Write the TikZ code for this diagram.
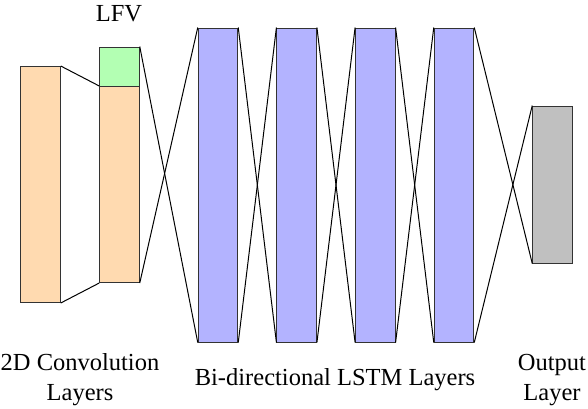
\documentclass[tikz,border=0pt]{standalone}
\usepackage{fontspec}
\setmainfont{Liberation Serif}
\definecolor{convorange}{HTML}{FFDAB0}
\definecolor{lfvgreen}{HTML}{B3FFB3}
\definecolor{lstmblue}{HTML}{B3B3FF}
\definecolor{outgray}{HTML}{C0C0C0}
\begin{document}
\begin{tikzpicture}[x=1pt, y=-1pt,
    layer/.style={draw=black!80, line width=1pt, rectangle, inner sep=0pt, minimum width=39.5pt},
    link/.style={black, line width=1pt},
    lbl/.style={font=\rmfamily\fontsize{24.5}{30}\selectfont, align=center, inner sep=0pt}]
    \useasboundingbox (0,0) rectangle (588,408);

    % Faltungsschichten
    \node[layer, fill=convorange, minimum height=236pt] (conv1) at (40.5, 184.5) {};
    \node[layer, fill=convorange, minimum height=196pt] (conv2) at (119.5, 184.5) {};
    \node[layer, fill=lfvgreen, minimum height=39.5pt] (lfv) at (119.5, 66.75) {};

    % LSTM-Schichten
    \foreach \i in {1,...,4}
        \node[layer, fill=lstmblue, minimum height=314pt] (lstm\i) at (218+78.67*\i-78.67, 185) {};

    % Ausgabeschicht
    \node[layer, fill=outgray, minimum height=157pt] (out) at (552.5, 184.5) {};

    % Verbindungen
    \draw[link] (conv1.north east) -- (conv2.north west);
    \draw[link] (conv1.south east) -- (conv2.south west);
    \draw[link] (lfv.north east) -- (lstm1.south west);
    \draw[link] (conv2.south east) -- (lstm1.north west);
    \foreach \i/\j in {1/2,2/3,3/4} {
        \draw[link] (lstm\i.north east) -- (lstm\j.south west);
        \draw[link] (lstm\i.south east) -- (lstm\j.north west);
    }
    \draw[link] (lstm4.north east) -- (out.south west);
    \draw[link] (lstm4.south east) -- (out.north west);

    % Beschriftungen
    \node[lbl] (lfvlabel) at (119, 14) {LFV};
    \node[lbl] (convlabel) at (80, 380) {2D Convolution\\Layers};
    \node[lbl] (lstmlabel) at (335, 380) {Bi-directional LSTM Layers};
    \node[lbl] (outlabel) at (552, 380) {Output\\Layer};
\end{tikzpicture}
\end{document}
